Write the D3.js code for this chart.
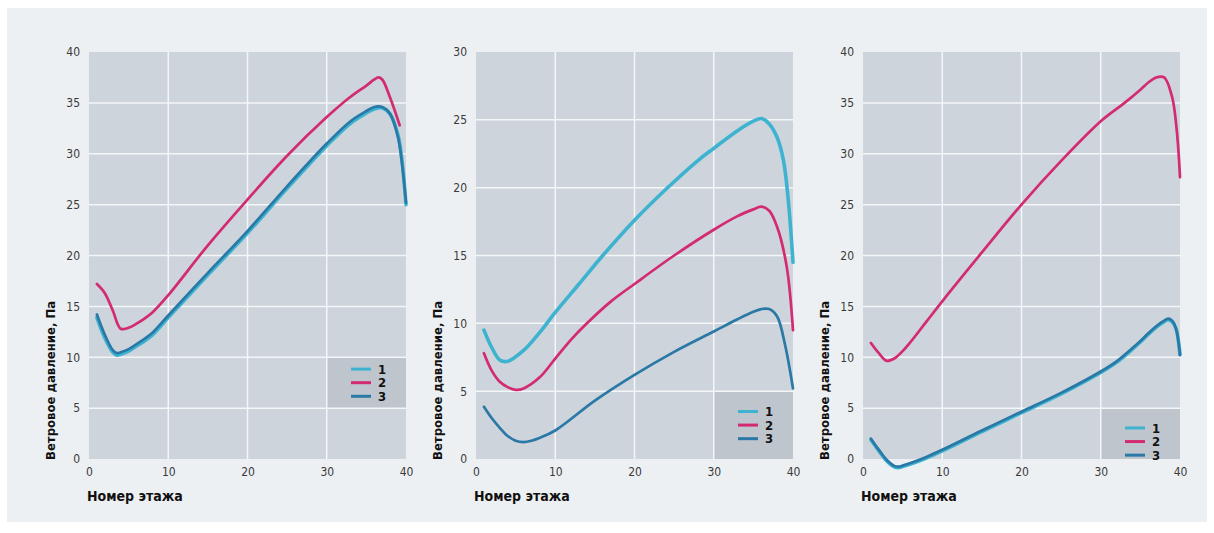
<!DOCTYPE html>
<html><head><meta charset="utf-8">
<script src="https://cdn.jsdelivr.net/npm/d3@7"></script>
<style>body{margin:0;background:#fff} svg{display:block}</style>
</head><body><svg id="c" width="1214" height="533"></svg>
<script>
// ---------- data ----------
const xTicks = [0, 10, 20, 30, 40];
const yTicks40 = [0, 5, 10, 15, 20, 25, 30, 35, 40];
const yTicks30 = [0, 5, 10, 15, 20, 25, 30];
const seriesLabels = ["1", "2", "3"];
const xTitle = "Номер этажа";
const yTitle = "Ветровое давление, Па";

// Panel 1
const p1Floors13 = [1, 2, 3, 3.5, 4, 5, 6, 7, 8, 10, 15, 20, 25, 30, 33, 35, 36, 37, 38, 39, 39.5, 40];
const p1S1 = [13.9, 11.9, 10.5, 10.2, 10.3, 10.6, 11.1, 11.6, 12.2, 13.9, 18.1, 22.2, 26.6, 30.8, 33.0, 34.0, 34.4, 34.5, 33.9, 31.8, 29.3, 25.0];
const p1S3 = [14.2, 12.2, 10.7, 10.4, 10.5, 10.8, 11.3, 11.8, 12.4, 14.1, 18.3, 22.4, 26.8, 31.0, 33.2, 34.2, 34.6, 34.6, 33.9, 31.6, 29.0, 25.2];
const p1Floors2 = [1, 2, 3, 4, 5, 6, 7, 8, 10, 15, 20, 25, 30, 33, 35, 36, 36.5, 37, 38, 39.2];
const p1S2 = [17.2, 16.3, 14.6, 12.8, 12.9, 13.3, 13.8, 14.4, 16.1, 21.0, 25.5, 29.8, 33.6, 35.6, 36.7, 37.3, 37.5, 37.3, 35.5, 32.8];

// Panel 2
const p2Floors1 = [1, 2, 3, 4, 6, 8, 10, 13, 16, 20, 24, 28, 30, 33, 35, 36, 37, 38, 38.8, 39.4, 40];
const p2S1 = [9.5, 8.2, 7.3, 7.2, 8.0, 9.3, 10.8, 12.9, 15.0, 17.6, 19.9, 22.0, 22.9, 24.2, 24.9, 25.1, 24.7, 23.7, 22.0, 19.1, 14.5];
const p2Floors2 = [1, 2, 3, 4, 5, 6, 8, 10, 12, 14, 17, 20, 25, 30, 33, 35, 36, 37, 38, 39.2, 40];
const p2S2 = [7.8, 6.5, 5.7, 5.3, 5.1, 5.2, 6.0, 7.4, 8.8, 10.0, 11.6, 12.9, 15.0, 16.9, 17.9, 18.4, 18.6, 18.3, 17.1, 14.2, 9.5];
const p2Floors3 = [1, 2, 3, 4, 5, 6, 7, 8, 10, 15, 20, 25, 30, 33, 35, 36, 37, 38, 39, 40];
const p2S3 = [3.85, 3.0, 2.3, 1.7, 1.35, 1.25, 1.35, 1.55, 2.1, 4.3, 6.2, 7.9, 9.4, 10.3, 10.85, 11.05, 11.05, 10.5, 8.4, 5.2];

// Panel 3
const p3Floors13 = [1, 2, 3, 4, 4.5, 5, 6, 8, 10, 15, 20, 25, 30, 32, 34, 35, 36, 37, 38, 38.5, 39, 39.5, 40];
const p3S1 = [1.9, 0.8, -0.2, -0.8, -0.85, -0.75, -0.5, 0.1, 0.8, 2.7, 4.55, 6.4, 8.5, 9.5, 10.8, 11.5, 12.25, 12.95, 13.5, 13.7, 13.5, 12.8, 10.3];
const p3S3 = [2.0, 0.9, -0.1, -0.7, -0.75, -0.65, -0.4, 0.2, 0.9, 2.8, 4.65, 6.5, 8.6, 9.6, 10.9, 11.6, 12.35, 13.05, 13.6, 13.8, 13.6, 12.8, 10.2];
const p3Floors2 = [1, 2, 3, 4, 5, 6, 8, 10, 15, 20, 25, 30, 33, 35, 36, 37, 38, 39, 39.5, 40];
const p3S2 = [11.4, 10.4, 9.65, 9.9, 10.6, 11.5, 13.5, 15.5, 20.3, 25.0, 29.3, 33.2, 35.0, 36.3, 37.0, 37.5, 37.5, 35.6, 33.0, 27.7];

// legend boxes (data coordinates: [x0, x1, y0, y1])
const p1LegendBox = [30, 40, 5, 10];
const p2LegendBox = [30, 40, 0, 5];
const p3LegendBox = [30, 40, 0, 5];

// ---------- styles ----------
const colors = ["#3db3d0", "#d32a72", "#2a78a6"];
const widths = [3.6, 2.7, 2.7];
const fontTick = "'DejaVu Sans Condensed','DejaVu Sans',sans-serif";

const panels = [
  {left: 89, yMax: 40, yTicks: yTicks40, box: p1LegendBox, legendDy: 0,
   series: [[p1Floors13, p1S1], [p1Floors2, p1S2], [p1Floors13, p1S3]]},
  {left: 476, yMax: 30, yTicks: yTicks30, box: p2LegendBox, legendDy: 0,
   series: [[p2Floors1, p2S1], [p2Floors2, p2S2], [p2Floors3, p2S3]]},
  {left: 863, yMax: 40, yTicks: yTicks40, box: p3LegendBox, legendDy: 8,
   series: [[p3Floors13, p3S1], [p3Floors2, p3S2], [p3Floors13, p3S3]]}
];

const PW = 317, PTOP = 52, PBOT = 459;
const svg = d3.select("#c");
svg.append("rect").attr("x", 7).attr("y", 8).attr("width", 1200).attr("height", 514).attr("fill", "#edf0f3");

panels.forEach(p => {
  const x = d3.scaleLinear().domain([0, 40]).range([p.left, p.left + PW]);
  const y = d3.scaleLinear().domain([0, p.yMax]).range([PBOT, PTOP]);
  const g = svg.append("g");
  g.append("rect").attr("x", x(0)).attr("y", y(p.yMax)).attr("width", PW).attr("height", PBOT - PTOP).attr("fill", "#cdd4db");
  g.append("rect").attr("x", x(p.box[0])).attr("y", y(p.box[3]))
    .attr("width", x(p.box[1]) - x(p.box[0])).attr("height", y(p.box[2]) - y(p.box[3]))
    .attr("fill", "#bec5cd");
  // grid
  g.selectAll(".gy").data(p.yTicks.filter(v => v > 0 && v < p.yMax)).enter().append("line")
    .attr("x1", x(0)).attr("x2", x(40)).attr("y1", d => y(d)).attr("y2", d => y(d))
    .attr("stroke", "#f4f6f8").attr("stroke-width", 1.5);
  g.selectAll(".gx").data(xTicks.filter(v => v > 0 && v < 40)).enter().append("line")
    .attr("y1", PTOP).attr("y2", PBOT).attr("x1", d => x(d)).attr("x2", d => x(d))
    .attr("stroke", "#f4f6f8").attr("stroke-width", 1.5);
  // axes
  const yAxis = d3.axisLeft(y).tickValues(p.yTicks).tickSize(0).tickPadding(9);
  const ya = g.append("g").attr("transform", `translate(${x(0)},0)`).call(yAxis);
  const xAxis = d3.axisBottom(x).tickValues(xTicks).tickSize(0).tickPadding(8);
  const xa = g.append("g").attr("transform", `translate(0,${PBOT})`).call(xAxis);
  [ya, xa].forEach(a => {
    a.select(".domain").remove();
    a.selectAll("text").attr("fill", "#3a3a3a").style("font-family", fontTick)
      .style("font-stretch", "condensed").style("font-size", "12px");
  });
  // lines
  const line = d3.line().x(d => x(d[0])).y(d => y(d[1])).curve(d3.curveCatmullRom.alpha(0.5));
  p.series.forEach((s, i) => {
    const pts = s[0].map((f, k) => [f, s[1][k]]);
    g.append("path").datum(pts).attr("d", line).attr("fill", "none")
      .attr("stroke", colors[i]).attr("stroke-width", widths[i]).attr("stroke-linecap", "round")
      .attr("stroke-linejoin", "round");
  });
  // legend
  const cy = (y(p.box[2]) + y(p.box[3])) / 2 + p.legendDy;
  seriesLabels.forEach((lab, i) => {
    const ry = cy + (i - 1) * 13.6;
    g.append("line").attr("x1", x(40) - 55).attr("x2", x(40) - 35).attr("y1", ry).attr("y2", ry)
      .attr("stroke", colors[i]).attr("stroke-width", 3);
    g.append("text").attr("x", x(40) - 28).attr("y", ry).attr("dy", "0.36em")
      .attr("fill", "#111").style("font-family", fontTick).style("font-stretch", "condensed")
      .style("font-weight", "bold").style("font-size", "13px").text(lab);
  });
  // titles
  g.append("text").attr("x", x(0) - 2).attr("y", 501).attr("fill", "#111")
    .style("font-family", fontTick).style("font-stretch", "condensed")
    .style("font-weight", "bold").style("font-size", "14px").text(xTitle);
  g.append("text").attr("transform", `translate(${x(0) - 34},460) rotate(-90)`).attr("fill", "#111")
    .style("font-family", fontTick).style("font-stretch", "condensed")
    .style("font-weight", "bold").style("font-size", "13px").text(yTitle);
});
</script></body></html>
